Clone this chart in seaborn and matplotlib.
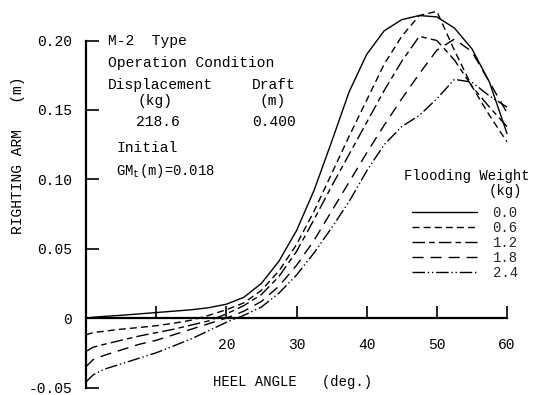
import matplotlib
matplotlib.use("Agg")
import matplotlib.pyplot as plt
import seaborn as sns
import numpy as np

sns.set_theme(style="white")
plt.rcParams['font.family'] = ['Liberation Mono', 'DejaVu Sans Mono']
plt.rcParams['mathtext.fontset'] = 'custom'
plt.rcParams['mathtext.rm'] = 'Liberation Mono'
plt.rcParams['mathtext.it'] = 'Liberation Mono'

# ---------------- data ----------------
heel_angle = [0, 1, 2.5, 5, 7.5, 10, 12.5, 15, 17.5, 20, 22.5, 25, 27.5, 30,
              32.5, 35, 37.5, 40, 42.5, 45, 47.5, 50, 52.5, 55, 57.5, 60]

flooding_weights = ["0.0", "0.6", "1.2", "1.8", "2.4"]

arm_w00 = [0, 0.0006, 0.0012, 0.002, 0.003, 0.004, 0.005, 0.006, 0.0075, 0.010,
           0.015, 0.025, 0.041, 0.063, 0.092, 0.127, 0.163, 0.190, 0.207, 0.215,
           0.218, 0.217, 0.209, 0.194, 0.170, 0.133]
arm_w06 = [-0.012, -0.0105, -0.0095, -0.008, -0.0068, -0.0055, -0.0037, -0.0015, 0.002, 0.006,
           0.011, 0.020, 0.034, 0.053, 0.077, 0.104, 0.131, 0.157, 0.183, 0.203,
           0.218, 0.221, 0.193, 0.167, 0.146, 0.127]
arm_w12 = [-0.024, -0.021, -0.019, -0.016, -0.013, -0.0105, -0.008, -0.005, -0.002, 0.003,
           0.009, 0.017, 0.030, 0.048, 0.071, 0.095, 0.118, 0.141, 0.164, 0.185,
           0.203, 0.200, 0.186, 0.167, 0.152, 0.138]
arm_w18 = [-0.035, -0.030, -0.027, -0.023, -0.019, -0.016, -0.012, -0.008, -0.004, 0.000,
           0.005, 0.012, 0.023, 0.038, 0.056, 0.077, 0.098, 0.119, 0.139, 0.158,
           0.176, 0.193, 0.201, 0.192, 0.170, 0.148]
arm_w24 = [-0.046, -0.041, -0.037, -0.033, -0.029, -0.025, -0.020, -0.015, -0.009, -0.003,
           0.002, 0.008, 0.018, 0.031, 0.047, 0.065, 0.084, 0.106, 0.125, 0.138,
           0.146, 0.158, 0.172, 0.170, 0.160, 0.152]

series = [arm_w00, arm_w06, arm_w12, arm_w18, arm_w24]

y_ticks = [-0.05, 0, 0.05, 0.10, 0.15, 0.20]
y_ticklabels = ["-0.05", "0", "0.05", "0.10", "0.15", "0.20"]
x_ticks = [10, 20, 30, 40, 50, 60]
x_ticklabels = ["", "20", "30", "40", "50", "60"]

# ---------------- figure ----------------
W, H = 538, 395
fig = plt.figure(figsize=(W / 100, H / 100), dpi=100)
fig.patch.set_facecolor("white")

def fx(px):
    return px / W

def fy(py):
    return 1 - py / H

# y: -0.05 -> 387.5 px, 0.20 -> 40.5 px (from top)
py_bot, py_020 = 387.5, 40.5
per_unit = (py_bot - py_020) / 0.25
ytop_val = 0.2255
py_top = py_020 - (ytop_val - 0.20) * per_unit
ax = fig.add_axes([fx(86), fy(py_bot), fx(507) - fx(86), fy(py_top) - fy(py_bot)])
ax.set_facecolor("white")

styles = ["-", (0, (5, 3)), (0, (9, 3, 4, 3)), (0, (8, 5)), (0, (9, 2, 1, 2, 1, 2))]

for vals, ls, lab in zip(series, styles, flooding_weights):
    sns.lineplot(x=heel_angle, y=vals, ax=ax, color="black", lw=1.0,
                 linestyle=ls, label=lab, clip_on=False)

ax.set_xlim(0, 60)
ax.set_ylim(-0.05, ytop_val)

for s in ["top", "right"]:
    ax.spines[s].set_visible(False)
ax.spines["bottom"].set_position(("data", 0))
ax.spines["left"].set_bounds(-0.05, 0.20)
ax.spines["bottom"].set_bounds(0, 60)
for s in ["left", "bottom"]:
    ax.spines[s].set_color("black")
    ax.spines[s].set_linewidth(1.6)

ax.set_yticks(y_ticks)
ax.set_yticklabels(y_ticklabels)
ax.set_xticks(x_ticks)
ax.set_xticklabels(x_ticklabels)
ax.tick_params(axis="y", direction="in", length=9.5, width=1.2, pad=10,
               labelsize=10.5, colors="black", left=True)
ax.tick_params(axis="x", direction="in", length=9, width=1.2, pad=14,
               labelsize=10.5, colors="black", bottom=True)
ax.set_xlabel("")
ax.set_ylabel("")
ax.grid(False)

leg = ax.legend(loc="upper left", bbox_to_anchor=(fx(412), fy(206)),
                bbox_transform=fig.transFigure, frameon=False, fontsize=10,
                handlelength=4.7, handletextpad=1.1, labelspacing=0.07,
                borderpad=0, borderaxespad=0)
for line in leg.get_lines():
    line.set_linewidth(1.0)

# ---------------- texts ----------------
fs = 10.5
def t(px, py, s, **kw):
    kw.setdefault("fontsize", fs)
    fig.text(fx(px), fy(py), s, ha=kw.pop("ha", "left"), va=kw.pop("va", "center"),
             color="black", **kw)

t(108, 41, "M-2  Type")
t(108, 63, "Operation Condition")
t(108, 85, "Displacement")
t(137, 101, "(kg)")
t(252, 85, "Draft")
t(259, 101, "(m)")
t(136, 122, "218.6")
t(252, 122, "0.400")
t(116, 148, "Initial")
t(116, 171, r"GM$_{\mathrm{t}}$(m)=0.018", fontsize=10)
t(404, 176, "Flooding Weight", fontsize=10)
t(489, 191, "(kg)", fontsize=10)
t(213, 382, "HEEL ANGLE   (deg.)", fontsize=10)
t(18, 155, "RIGHTING ARM   (m)", rotation=90, ha="center", fontsize=10.5)

fig.savefig("out.png", dpi=100, facecolor="white")
